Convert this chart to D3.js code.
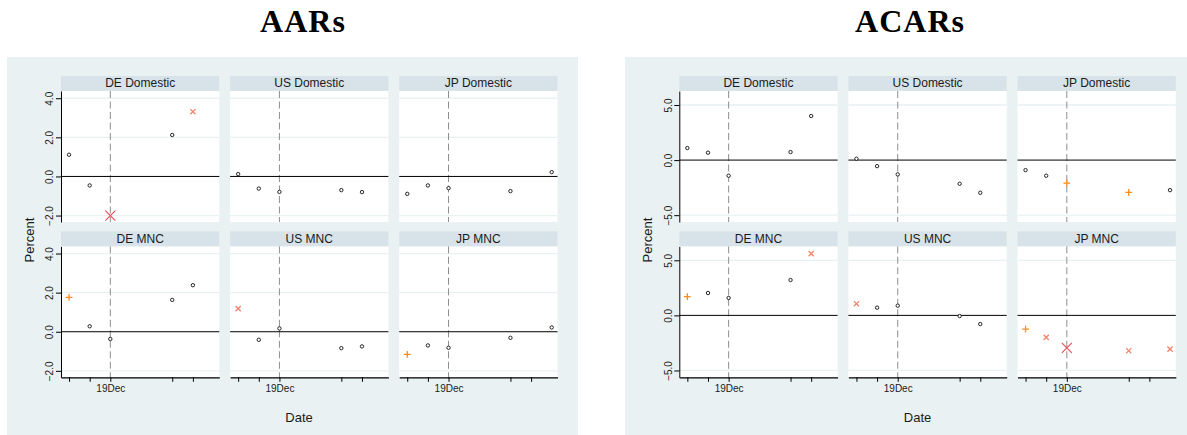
<!DOCTYPE html>
<html>
<head>
<meta charset="utf-8">
<script src="https://cdn.jsdelivr.net/npm/d3@7"></script>
<style>
  html, body { margin: 0; padding: 0; background: #ffffff; }
  svg { display: block; }
  text { font-family: Arial, "Liberation Sans", sans-serif; }
  text.figtitle { font-family: "Liberation Serif", "DejaVu Serif", serif; }
</style>
</head>
<body>
<script>
// ---------------- DATA ----------------
const panelNames = ["DE Domestic", "US Domestic", "JP Domestic", "DE MNC", "US MNC", "JP MNC"];
const datesDEUS = ["17Dec", "18Dec", "19Dec", "22Dec", "23Dec"];
const datesJP   = ["17Dec", "18Dec", "19Dec", "22Dec", "24Dec"];
const panelDates = [datesDEUS, datesDEUS, datesJP, datesDEUS, datesDEUS, datesJP];
const xTickDates = ["17Dec", "18Dec", "19Dec", "22Dec", "23Dec"];
const eventDate = "19Dec";

// AARs (percent)
const aarValues = [
  [1.11, -0.46, -2.00, 2.12, 3.31],
  [0.12, -0.62, -0.79, -0.70, -0.80],
  [-0.89, -0.46, -0.60, -0.75, 0.22],
  [1.76, 0.28, -0.37, 1.63, 2.38],
  [1.18, -0.41, 0.17, -0.84, -0.75],
  [-1.16, -0.70, -0.82, -0.31, 0.22]
];
// significance marker: o = none, + = 10%, x = 5%, X = 1%
const aarSig = [
  ["o", "o", "X", "o", "x"],
  ["o", "o", "o", "o", "o"],
  ["o", "o", "o", "o", "o"],
  ["+", "o", "o", "o", "o"],
  ["x", "o", "o", "o", "o"],
  ["+", "o", "o", "o", "o"]
];
const aarTicks = [4, 2, 0, -2];
const aarDomain = [-2.33, 4.37];

// ACARs (percent)
const acarValues = [
  [1.09, 0.67, -1.42, 0.73, 4.00],
  [0.12, -0.55, -1.30, -2.15, -2.97],
  [-0.91, -1.42, -2.09, -2.94, -2.73],
  [1.70, 2.03, 1.58, 3.21, 5.60],
  [1.06, 0.70, 0.88, -0.06, -0.79],
  [-1.24, -2.00, -2.94, -3.21, -3.06]
];
const acarSig = [
  ["o", "o", "o", "o", "o"],
  ["o", "o", "o", "o", "o"],
  ["o", "o", "+", "+", "o"],
  ["+", "o", "o", "o", "x"],
  ["x", "o", "o", "o", "o"],
  ["+", "x", "X", "x", "x"]
];
const acarTicks = [5, 0, -5];
const acarDomain = [-5.62, 6.27];

const titles = ["AARs", "ACARs"];
const xTitle = "Date";
const yTitle = "Percent";

// ---------------- STYLE ----------------
const W = 1187, H = 435;
const C = {
  boxBg: "#eaf1f3",
  strip: "#d7e3e9",
  grid: "#e9f1f3",
  plotBg: "#ffffff",
  dash: "#8e8e8e",
  text: "#1a1a1a",
  plus: "#ff8c1a",
  xs: "#f4816a",
  xl: "#ee4a58"
};

const dayOf = s => parseInt(s, 10);

const svg = d3.select("body").append("svg")
  .attr("width", W).attr("height", H);

function drawFigure(opt) {
  const g = svg.append("g");
  // background box
  g.append("rect")
    .attr("x", opt.boxX).attr("y", 57)
    .attr("width", opt.boxW).attr("height", H - 57)
    .attr("fill", C.boxBg);

  // title
  g.append("text")
    .attr("class", "figtitle")
    .attr("x", opt.titleX).attr("y", 31.5)
    .attr("text-anchor", "middle")
    .attr("font-weight", "bold")
    .attr("font-size", 32)
    .attr("letter-spacing", 1)
    .attr("fill", "#000")
    .text(opt.title);

  const colStep = 169.1, pw = 158.3;
  const rowTop = [76, 231.3];
  const stripH = 15, ph = 131;

  const x = d3.scaleLinear().domain([16.61, 24.28]).range([0, pw]);
  const y = d3.scaleLinear().domain(opt.domain).range([ph, 0]);

  panelNames.forEach((name, i) => {
    const col = i % 3, row = Math.floor(i / 3);
    const px = opt.plotX + col * colStep;
    const py = rowTop[row] + stripH;
    const pg = g.append("g").attr("transform", `translate(${px},${py})`);

    // strip
    g.append("rect")
      .attr("x", px).attr("y", rowTop[row])
      .attr("width", pw).attr("height", stripH)
      .attr("fill", C.strip);
    g.append("text")
      .attr("x", px + pw / 2).attr("y", rowTop[row] + 11.2)
      .attr("text-anchor", "middle")
      .attr("font-size", 12)
      .attr("fill", C.text)
      .text(name);

    // plot background
    pg.append("rect").attr("width", pw).attr("height", ph).attr("fill", C.plotBg);

    // grid
    pg.selectAll("line.grid").data(opt.ticks.filter(t => t !== 0)).join("line")
      .attr("class", "grid")
      .attr("x1", 0).attr("x2", pw)
      .attr("y1", d => y(d)).attr("y2", d => y(d))
      .attr("stroke", C.grid).attr("stroke-width", 1.3);

    // event line
    pg.append("line")
      .attr("x1", x(dayOf(eventDate))).attr("x2", x(dayOf(eventDate)))
      .attr("y1", 0).attr("y2", ph)
      .attr("stroke", C.dash).attr("stroke-width", 1)
      .attr("stroke-dasharray", "7,3.5");

    // zero line
    pg.append("line")
      .attr("x1", 0).attr("x2", pw)
      .attr("y1", y(0)).attr("y2", y(0))
      .attr("stroke", "#000").attr("stroke-width", 1);

    // y axis (first column)
    if (col === 0) {
      const ya = pg.append("g").call(
        d3.axisLeft(y).tickValues(opt.ticks).tickSize(5).tickSizeOuter(0)
          .tickFormat(d3.format(".1f")));
      ya.select(".domain").attr("stroke", "#000");
      ya.selectAll(".tick line").attr("stroke", "#000");
      ya.selectAll(".tick text")
        .attr("transform", "rotate(-90)")
        .attr("x", 0).attr("y", -7.7).attr("dy", 0)
        .attr("text-anchor", "middle")
        .attr("font-size", 10)
        .attr("fill", C.text);
    }
    // x axis (bottom row)
    if (row === 1) {
      const xa = pg.append("g").attr("transform", `translate(0,${ph})`).call(
        d3.axisBottom(x).tickValues(xTickDates.map(dayOf)).tickSize(4.5).tickSizeOuter(0)
          .tickPadding(3.5)
          .tickFormat(d => d === dayOf(eventDate) ? eventDate : ""));
      xa.select(".domain").attr("stroke", "#000").attr("stroke-width", 1.2);
      xa.selectAll(".tick line").attr("stroke", "#000");
      xa.selectAll(".tick text")
        .attr("font-size", 10)
        .attr("fill", C.text);
    }

    // points
    const pts = opt.values[i].map((v, k) => ({
      d: dayOf(panelDates[i][k]), v, s: opt.sig[i][k]
    }));
    pts.forEach(p => {
      const cx = x(p.d), cy = y(p.v);
      if (p.s === "o") {
        pg.append("circle").attr("cx", cx).attr("cy", cy).attr("r", 1.7)
          .attr("fill", "#fff").attr("stroke", "#111").attr("stroke-width", 0.9);
      } else if (p.s === "+") {
        const h = 3.4;
        pg.append("path")
          .attr("d", `M${cx - h},${cy}H${cx + h}M${cx},${cy - h}V${cy + h}`)
          .attr("stroke", C.plus).attr("stroke-width", 1.3).attr("fill", "none");
      } else if (p.s === "x") {
        const h = 2.6;
        pg.append("path")
          .attr("d", `M${cx - h},${cy - h}L${cx + h},${cy + h}M${cx - h},${cy + h}L${cx + h},${cy - h}`)
          .attr("stroke", C.xs).attr("stroke-width", 1.3).attr("fill", "none");
      } else {
        const h = 5;
        pg.append("path")
          .attr("d", `M${cx - h},${cy - h}L${cx + h},${cy + h}M${cx - h},${cy + h}L${cx + h},${cy - h}`)
          .attr("stroke", C.xl).attr("stroke-width", 1.1).attr("fill", "none");
      }
    });
  });

  // axis titles
  g.append("text")
    .attr("transform", `translate(${opt.plotX - 27.5},240) rotate(-90)`)
    .attr("text-anchor", "middle")
    .attr("font-size", 13)
    .attr("fill", C.text)
    .text(yTitle);
  g.append("text")
    .attr("x", opt.dateX).attr("y", 421.5)
    .attr("text-anchor", "middle")
    .attr("font-size", 13)
    .attr("fill", C.text)
    .text(xTitle);
}

drawFigure({
  title: titles[0], titleX: 303, boxX: 7, boxW: 571, plotX: 61,
  domain: aarDomain, ticks: aarTicks, values: aarValues, sig: aarSig, dateX: 299
});
drawFigure({
  title: titles[1], titleX: 910, boxX: 625, boxW: 562, plotX: 679.3,
  domain: acarDomain, ticks: acarTicks, values: acarValues, sig: acarSig, dateX: 917.5
});
</script>
</body>
</html>
